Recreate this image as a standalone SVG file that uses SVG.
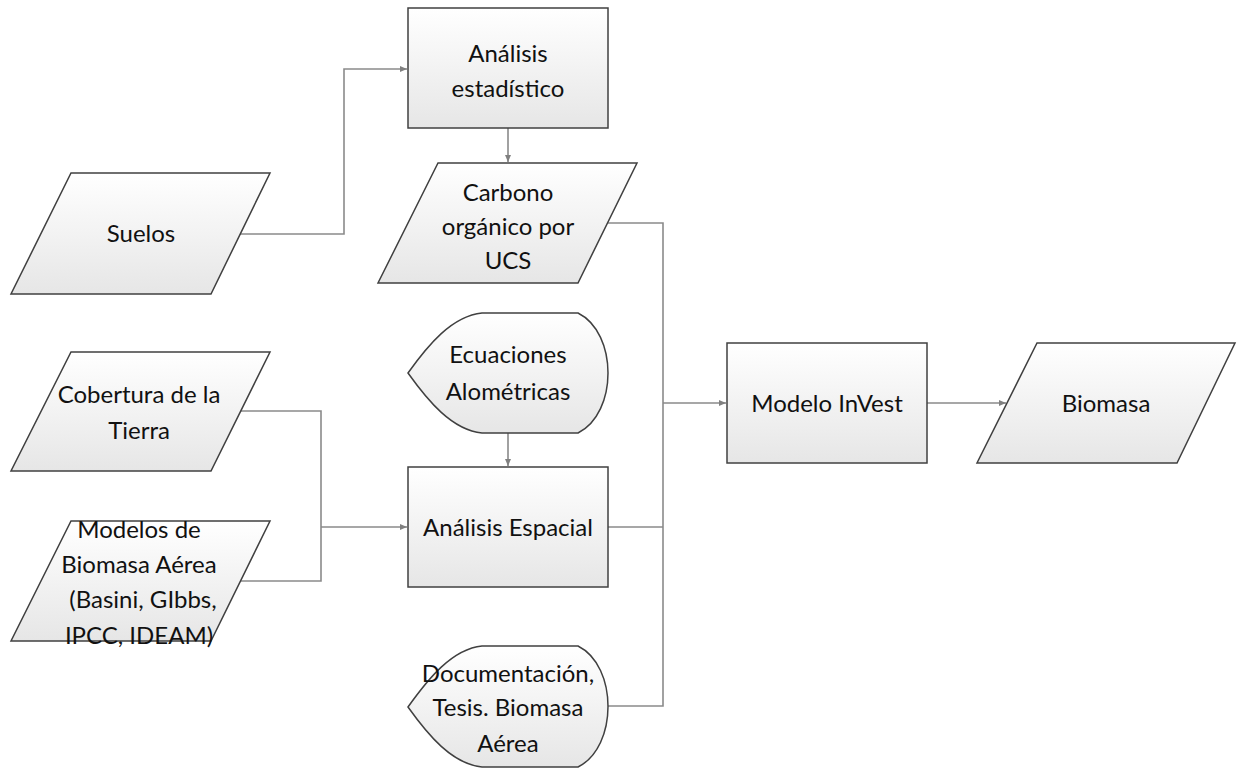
<svg xmlns="http://www.w3.org/2000/svg" width="1238" height="769" viewBox="0 0 1238 769">
  <defs>
    <linearGradient id="fillGrad" x1="0" y1="0" x2="0" y2="1">
      <stop offset="0" stop-color="#ffffff"/>
      <stop offset="1" stop-color="#e6e6e6"/>
    </linearGradient>
    <marker id="arrow" markerWidth="8" markerHeight="8" refX="7" refY="4" orient="auto" markerUnits="userSpaceOnUse">
      <path d="M0,1 L7,4 L0,7 Z" fill="#808080"/>
    </marker>
    <style>
      .shape { fill: url(#fillGrad); stroke: #404040; stroke-width: 1.5; }
      .conn { fill: none; stroke: #8a8a8a; stroke-width: 1.6; }
      .arr { marker-end: url(#arrow); }
      text { font-family: "Lato", "Open Sans", "Liberation Sans", sans-serif; font-size: 24px; fill: #111; text-anchor: middle; }
    </style>
  </defs>

  <rect width="1238" height="769" fill="#ffffff"/>

  <!-- connectors -->
  <g id="connectors">
    <path class="conn arr" d="M240,234 H344 V69 H407"/>
    <path class="conn arr" d="M508,128 V162"/>
    <path class="conn" d="M607,223 H663 V706 H606"/>
    <path class="conn arr" d="M663,403 H726"/>
    <path class="conn arr" d="M508,433 V466"/>
    <path class="conn" d="M608,527 H663"/>
    <path class="conn" d="M240,411 H321 V581 H180"/>
    <path class="conn arr" d="M321,527 H407"/>
    <path class="conn arr" d="M927,403 H1006"/>
  </g>

  <g id="analisis-estadistico">
    <rect class="shape" x="408" y="8" width="200" height="120"/>
    <text x="508" y="62">Análisis</text>
    <text x="508" y="97">estadístico</text>
  </g>

  <g id="suelos">
    <polygon class="shape" points="71,173 270,173 211,294 11,294"/>
    <text x="141" y="242">Suelos</text>
  </g>

  <g id="carbono">
    <polygon class="shape" points="438,163 637,163 578,283 378,283"/>
    <text x="508" y="201">Carbono</text>
    <text x="508" y="235">orgánico por</text>
    <text x="508" y="269">UCS</text>
  </g>

  <g id="ecuaciones">
    <path class="shape" d="M408,373 C428,345 452,316 482,313 H578 C618,333 618,413 578,433 H482 C452,430 428,401 408,373 Z"/>
    <text x="508" y="363">Ecuaciones</text>
    <text x="508" y="400">Alométricas</text>
  </g>

  <g id="cobertura">
    <polygon class="shape" points="71,352 270,352 211,471 11,471"/>
    <text x="139" y="403">Cobertura de la</text>
    <text x="139" y="439">Tierra</text>
  </g>

  <g id="analisis-espacial">
    <rect class="shape" x="408" y="467" width="200" height="120"/>
    <text x="508" y="536">Análisis Espacial</text>
  </g>

  <g id="modelos">
    <polygon class="shape" points="71,521 270,521 211,641 11,641"/>
    <text x="139" y="538">Modelos de</text>
    <text x="139" y="573">Biomasa Aérea</text>
    <text x="143" y="608">(Basini, GIbbs,</text>
    <text x="139" y="644">IPCC, IDEAM)</text>
  </g>

  <g id="documentacion">
    <path class="shape" d="M408,707 C428,679 452,649 482,646 H578 C618,666 618,747 578,767 H482 C452,764 428,735 408,707 Z"/>
    <text x="508" y="682">Documentación,</text>
    <text x="508" y="716">Tesis. Biomasa</text>
    <text x="508" y="752">Aérea</text>
  </g>

  <g id="modelo-invest">
    <rect class="shape" x="727" y="343" width="200" height="120"/>
    <text x="827" y="412">Modelo InVest</text>
  </g>

  <g id="biomasa">
    <polygon class="shape" points="1037,343 1235,343 1177,463 977,463"/>
    <text x="1106" y="412">Biomasa</text>
  </g>
</svg>
